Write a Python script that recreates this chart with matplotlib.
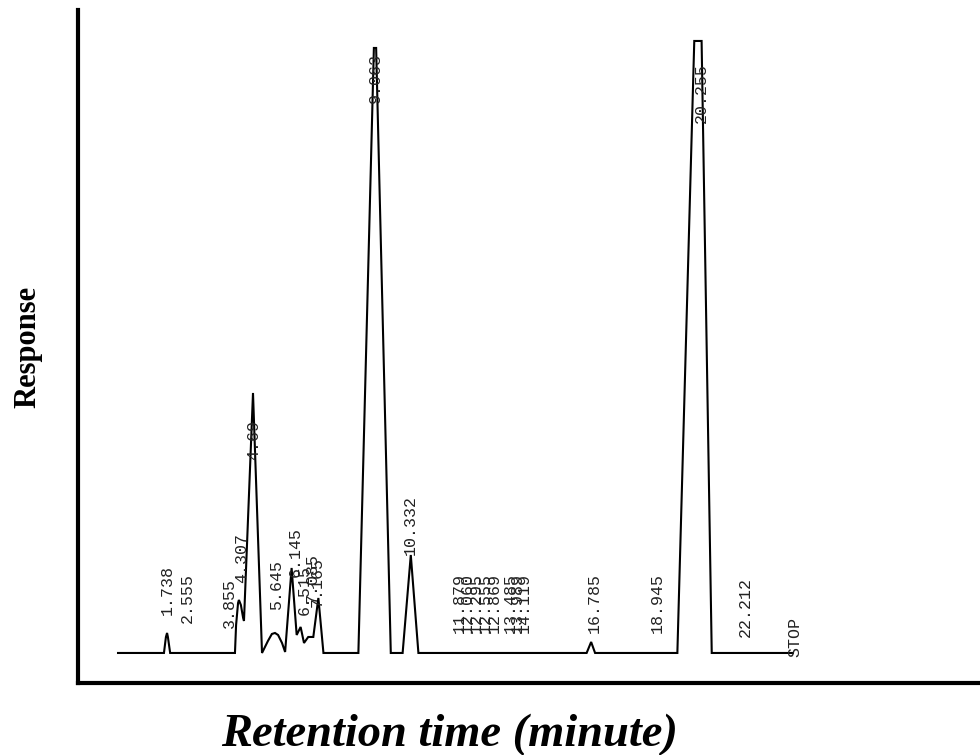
import matplotlib
matplotlib.use("Agg")
import matplotlib.pyplot as plt

# chromatogram trace, vertices (minutes, response)
trace_t = [0.0, 1.63, 1.70, 1.74, 1.77, 1.85,
           4.15, 4.19, 4.26, 4.29, 4.36, 4.44, 4.47, 4.79, 5.11,
           5.32, 5.46, 5.57, 5.68, 5.82, 5.93, 6.16, 6.34, 6.48, 6.60, 6.75, 6.93, 7.11, 7.29,
           8.53, 9.08, 9.16, 9.68,
           10.10, 10.39, 10.66,
           16.63, 16.79, 16.93,
           19.85, 20.45, 20.71, 21.07, 23.95]
trace_r = [0, 0, 16, 20, 16, 0,
           0, 28, 50, 53, 48, 35, 32, 260, 0,
           12, 19, 20, 18, 10, 1, 85, 18, 26, 10, 16, 16, 55, 0,
           0, 605, 605, 0,
           0, 98, 0,
           0, 11, 0,
           0, 612, 612, 0, 0]

# printed retention time labels: text, x position, y position of text start
peak_labels = ["1.738", "2.555", "3.855", "4.307", "4.69", "5.645", "6.145",
               "6.515", "7.085", "7.165", "9.063", "10.332",
               "11.879", "12.060", "12.295", "12.555", "12.869",
               "13.485", "13.989", "14.119",
               "16.785", "18.945", "20.255", "22.212", "STOP"]
label_t = [1.74, 2.45, 3.97, 4.40, 4.83, 5.64, 6.28,
           6.60, 6.88, 7.06, 9.12, 10.36,
           12.10, 12.38, 12.70, 13.02, 13.34,
           13.91, 14.16, 14.41,
           16.89, 19.13, 20.70, 22.28, 24.02]
label_r = [38, 30, 25, 70, 193, 43, 76,
           38, 50, 46, 550, 98,
           20, 20, 20, 20, 20,
           20, 20, 20,
           20, 20, 530, 16, -4]

fig = plt.figure(figsize=(9.8, 7.55), dpi=100)
ax = fig.add_axes([0.0796, 0.0954, 0.9204, 0.8914])

ax.plot(trace_t, trace_r, color="black", lw=1.5, solid_joinstyle="miter")

for txt, t, r in zip(peak_labels, label_t, label_r):
    ax.text(t, r, txt, rotation=90, ha="center", va="bottom", fontsize=12,
            family=["Liberation Mono", "DejaVu Sans Mono"], color="#222222")

ax.set_xlim(-1.42, 30.59)
ax.set_ylim(-30, 643)
ax.spines["top"].set_visible(False)
ax.spines["right"].set_visible(False)
ax.spines["left"].set_linewidth(3)
ax.spines["bottom"].set_linewidth(3)
ax.set_xticks([])
ax.set_yticks([])

fig.text(0.029, 0.54, "Response", rotation=90, ha="center", va="center",
         fontsize=22, fontweight="bold", family="Liberation Serif")
fig.text(0.459, 0.027, "Retention time (minute)", ha="center", va="center",
         fontsize=33.5, fontweight="bold", fontstyle="italic", family="Liberation Serif")

fig.savefig("out.png", dpi=100)
